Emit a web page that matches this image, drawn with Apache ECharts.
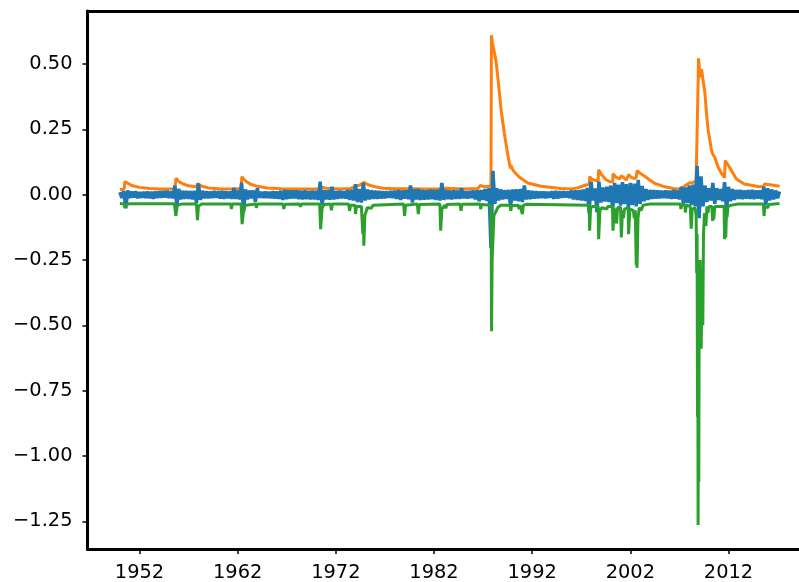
<!DOCTYPE html>
<html>
<head>
<meta charset="utf-8">
<script src="https://cdn.jsdelivr.net/npm/echarts@6/dist/echarts.min.js"></script>
<style>
  html, body { margin: 0; padding: 0; background: #fff; }
  #chart { width: 799px; height: 582px; }
</style>
</head>
<body>
<div id="chart"></div>
<script>
// tick labels
const xTicks = [1952, 1962, 1972, 1982, 1992, 2002, 2012]
const yTicks = [0.5, 0.25, 0, -0.25, -0.5, -0.75, -1.0, -1.25]

// blue: daily-ish returns, sampled every 0.2 year from 1950.0
const blueStart = 1950.0
const blueStep = 0.2
const blueValues = [
  0.010, -0.012, 0.014, -0.052, 0.016,   // 1950
  -0.013, 0.012, -0.011, 0.013, -0.014,  // 1951
  0.010, -0.012, 0.011, -0.013, 0.012,
  -0.014, 0.011, -0.016, 0.012, -0.013,
  0.013, -0.012, 0.014, -0.011, 0.015,
  -0.013, 0.012, -0.014, 0.035, -0.045,  // 1955
  0.022, -0.018, 0.015, -0.016, 0.014,
  -0.016, 0.014, -0.018, 0.015, -0.032,
  0.043, -0.020, 0.015, -0.014, 0.013,
  -0.014, 0.012, -0.013, 0.014, -0.012,
  0.013, -0.015, 0.014, -0.016, 0.013,   // 1960
  -0.014, 0.012, -0.016, 0.025, -0.016,
  0.016, -0.018, 0.046, -0.068, 0.020,
  -0.018, 0.016, -0.014, 0.016, -0.028,
  0.025, -0.012, 0.011, -0.013, 0.012,
  -0.013, 0.011, -0.014, 0.013, -0.015,  // 1965
  0.012, -0.016, 0.015, -0.020, 0.018,
  -0.017, 0.016, -0.015, 0.016, -0.014,
  0.016, -0.017, 0.015, -0.018, 0.016,
  -0.017, 0.014, -0.018, 0.016, -0.018,
  0.015, -0.020, 0.050, -0.040, 0.018,   // 1970
  -0.018, 0.017, -0.019, 0.030, -0.018,
  0.014, -0.016, 0.015, -0.014, 0.013,
  -0.015, 0.018, -0.020, 0.019, -0.022,
  0.040, -0.028, 0.022, -0.030, 0.045,
  -0.022, 0.020, -0.018, 0.017, -0.016,  // 1975
  0.015, -0.016, 0.014, -0.015, 0.013,
  -0.014, 0.013, -0.012, 0.014, -0.013,
  0.015, -0.016, 0.018, -0.020, 0.016,
  -0.015, 0.016, -0.017, 0.035, -0.030,
  0.020, -0.018, 0.022, -0.020, 0.018,   // 1980
  -0.019, 0.017, -0.018, 0.019, -0.017,
  0.018, -0.020, 0.019, -0.022, 0.045,
  -0.020, 0.018, -0.017, 0.016, -0.018,
  0.017, -0.016, 0.015, -0.016, 0.025,
  -0.014, 0.013, -0.015, 0.014, -0.013,  // 1985
  0.016, -0.018, 0.017, -0.025, 0.018,
  -0.020, 0.022, -0.024, 0.025, -0.205,
  0.091, -0.035, 0.025, -0.022, 0.020,
  -0.018, 0.017, -0.016, 0.018, -0.045,
  0.020, -0.022, 0.021, -0.025, 0.022,   // 1990
  -0.028, 0.035, -0.018, 0.016, -0.017,
  0.014, -0.015, 0.013, -0.014, 0.012,
  -0.013, 0.012, -0.014, 0.011, -0.012,
  0.013, -0.016, 0.014, -0.015, 0.013,
  -0.012, 0.013, -0.011, 0.012, -0.013,  // 1995
  0.016, -0.018, 0.017, -0.020, 0.018,
  -0.022, 0.020, -0.024, 0.026, -0.070,
  0.050, -0.022, 0.024, -0.068, 0.050,
  -0.030, 0.028, -0.026, 0.030, -0.028,
  0.035, -0.058, 0.045, -0.032, 0.038,   // 2000
  -0.042, 0.048, -0.036, 0.040, -0.050,
  0.045, -0.040, 0.042, -0.045, 0.057,
  -0.035, 0.033, -0.025, 0.022, -0.020,
  0.018, -0.016, 0.017, -0.015, 0.016,
  -0.014, 0.015, -0.013, 0.016, -0.014,  // 2005
  0.015, -0.016, 0.018, -0.015, 0.016,
  -0.018, 0.030, -0.035, 0.028, -0.032,
  0.035, -0.040, 0.038, -0.045, 0.110,
  -0.090, 0.070, -0.045, 0.035, -0.028,
  0.025, -0.022, 0.045, -0.035, 0.025,   // 2010
  -0.020, 0.022, -0.025, 0.048, -0.066,
  0.030, -0.025, 0.022, -0.020, 0.018,
  -0.016, 0.018, -0.017, 0.016, -0.015,
  0.017, -0.016, 0.018, -0.017, 0.016,
  -0.015, 0.016, -0.017, 0.030, -0.040,  // 2015
  0.025, -0.022, 0.020, -0.018, 0.016,
  -0.014, 0.012                          // 2017
]

// orange: [year, value]
const orangePts = [
  [1950.0, 0.020], [1950.45, 0.022], [1950.5, 0.050], [1950.7, 0.048], [1951.2, 0.035],
  [1952.0, 0.028], [1953.0, 0.024], [1954.0, 0.022], [1955.6, 0.022], [1955.72, 0.063],
  [1956.0, 0.050], [1956.5, 0.040], [1957.0, 0.034], [1957.8, 0.030], [1957.9, 0.042],
  [1958.3, 0.033], [1959.0, 0.026], [1960.4, 0.022], [1961.5, 0.023], [1962.35, 0.024],
  [1962.42, 0.069], [1962.8, 0.052], [1963.3, 0.040], [1964.0, 0.032], [1965.0, 0.026],
  [1966.5, 0.023], [1968.0, 0.022], [1970.3, 0.022], [1970.45, 0.030], [1971.0, 0.025],
  [1972.5, 0.022], [1973.5, 0.024], [1974.0, 0.032], [1974.5, 0.038], [1974.85, 0.047],
  [1975.3, 0.038], [1976.0, 0.030], [1976.8, 0.025], [1978.0, 0.023], [1979.8, 0.023],
  [1980.0, 0.026], [1981.0, 0.022], [1982.6, 0.023], [1982.7, 0.030], [1983.2, 0.025],
  [1985.0, 0.022], [1986.5, 0.024], [1986.7, 0.035], [1987.2, 0.030], [1987.8, 0.033],
  [1987.85, 0.610], [1987.95, 0.580], [1988.3, 0.515], [1988.5, 0.450], [1988.67, 0.387],
  [1988.84, 0.323], [1989.17, 0.233], [1989.5, 0.157], [1989.78, 0.100], [1989.83, 0.113],
  [1990.0, 0.097], [1990.2, 0.086], [1990.7, 0.067], [1991.55, 0.045], [1992.9, 0.032],
  [1994.9, 0.024], [1996.0, 0.022], [1996.6, 0.026], [1997.3, 0.035], [1997.82, 0.040],
  [1997.85, 0.069], [1998.1, 0.058], [1998.72, 0.052], [1998.77, 0.095], [1999.1, 0.075],
  [1999.5, 0.058], [1999.9, 0.050], [2000.2, 0.048], [2000.23, 0.080], [2000.5, 0.068],
  [2000.9, 0.060], [2001.05, 0.058], [2001.08, 0.073], [2001.6, 0.056], [2001.79, 0.055],
  [2001.82, 0.077], [2002.1, 0.066], [2002.5, 0.062], [2002.62, 0.070], [2002.68, 0.092],
  [2003.0, 0.082], [2003.5, 0.070], [2004.0, 0.055], [2004.5, 0.043], [2005.5, 0.030],
  [2006.4, 0.024], [2006.9, 0.022], [2007.2, 0.025], [2007.6, 0.035], [2008.0, 0.045],
  [2008.4, 0.047], [2008.7, 0.052], [2008.8, 0.058], [2008.86, 0.350], [2008.95, 0.522],
  [2009.1, 0.450], [2009.25, 0.480], [2009.6, 0.387], [2009.76, 0.310], [2009.93, 0.246],
  [2010.1, 0.208], [2010.27, 0.169], [2010.4, 0.155], [2010.45, 0.160], [2010.6, 0.143],
  [2010.95, 0.105], [2011.3, 0.080], [2011.6, 0.066], [2011.66, 0.131], [2012.1, 0.105],
  [2012.8, 0.060], [2013.6, 0.041], [2015.0, 0.031], [2015.6, 0.030], [2015.65, 0.041],
  [2016.4, 0.037], [2017.2, 0.032]
]

// green: [year, value]
const greenPts = [
  [1950.0, -0.034], [1950.45, -0.036], [1950.5, -0.050], [1950.6, -0.038], [1951.0, -0.035],
  [1955.55, -0.035], [1955.7, -0.081], [1955.85, -0.040], [1956.3, -0.036], [1957.8, -0.036],
  [1957.9, -0.097], [1958.0, -0.045], [1958.3, -0.036], [1961.3, -0.036], [1961.35, -0.055],
  [1961.45, -0.036], [1962.35, -0.036], [1962.45, -0.113], [1962.6, -0.060], [1962.8, -0.040],
  [1963.85, -0.036], [1963.9, -0.050], [1964.0, -0.036], [1966.6, -0.036], [1966.7, -0.055],
  [1966.8, -0.037], [1968.3, -0.036], [1968.4, -0.046], [1968.5, -0.036], [1970.35, -0.036],
  [1970.45, -0.132], [1970.6, -0.050], [1970.8, -0.038], [1971.45, -0.036], [1971.55, -0.060],
  [1971.65, -0.036], [1973.3, -0.036], [1973.4, -0.062], [1973.5, -0.040], [1973.95, -0.040],
  [1974.0, -0.074], [1974.1, -0.045], [1974.6, -0.045], [1974.75, -0.150], [1974.8, -0.090],
  [1974.85, -0.195], [1974.95, -0.080], [1975.2, -0.050], [1975.6, -0.052], [1975.8, -0.040],
  [1978.9, -0.036], [1979.0, -0.081], [1979.1, -0.040], [1980.3, -0.036], [1980.4, -0.074],
  [1980.5, -0.038], [1982.6, -0.036], [1982.68, -0.138], [1982.8, -0.055], [1983.1, -0.040],
  [1983.2, -0.052], [1983.3, -0.038], [1984.65, -0.036], [1984.75, -0.062], [1984.85, -0.037],
  [1986.7, -0.036], [1986.75, -0.055], [1986.85, -0.038], [1987.8, -0.040], [1987.83, -0.200],
  [1987.86, -0.523], [1987.92, -0.250], [1988.1, -0.080], [1988.5, -0.049], [1988.8, -0.040],
  [1989.75, -0.040], [1989.82, -0.062], [1989.9, -0.042], [1990.6, -0.040], [1990.65, -0.055],
  [1990.75, -0.040], [1991.0, -0.074], [1991.1, -0.040], [1991.3, -0.045], [1991.4, -0.037],
  [1997.8, -0.040], [1997.85, -0.138], [1997.95, -0.050], [1998.2, -0.045], [1998.72, -0.045],
  [1998.77, -0.170], [1998.9, -0.060], [1999.1, -0.050], [1999.6, -0.055], [1999.7, -0.045],
  [2000.18, -0.045], [2000.23, -0.138], [2000.35, -0.050], [2000.6, -0.110], [2000.7, -0.050],
  [2001.0, -0.048], [2001.08, -0.164], [2001.2, -0.060], [2001.3, -0.090], [2001.4, -0.055],
  [2001.78, -0.050], [2001.82, -0.151], [2001.95, -0.055], [2002.3, -0.060], [2002.4, -0.090],
  [2002.5, -0.060], [2002.6, -0.270], [2002.64, -0.150], [2002.68, -0.280], [2002.78, -0.090],
  [2002.9, -0.050], [2003.1, -0.060], [2003.3, -0.040], [2004.0, -0.036], [2007.1, -0.036],
  [2007.15, -0.055], [2007.25, -0.037], [2007.55, -0.040], [2007.6, -0.068], [2007.7, -0.040],
  [2008.1, -0.045], [2008.2, -0.130], [2008.3, -0.055], [2008.6, -0.050], [2008.7, -0.080],
  [2008.76, -0.300], [2008.8, -0.150], [2008.84, -0.850], [2008.87, -0.450], [2008.9, -1.264],
  [2008.94, -0.700], [2008.97, -1.100], [2009.02, -0.350], [2009.1, -0.250], [2009.22, -0.590],
  [2009.3, -0.300], [2009.38, -0.500], [2009.45, -0.150], [2009.55, -0.070], [2009.7, -0.120],
  [2009.8, -0.045], [2009.9, -0.070], [2010.0, -0.045], [2010.3, -0.045], [2010.38, -0.100],
  [2010.45, -0.060], [2010.5, -0.095], [2010.6, -0.045], [2011.55, -0.045], [2011.6, -0.170],
  [2011.66, -0.100], [2011.72, -0.164], [2011.8, -0.060], [2011.85, -0.087], [2011.95, -0.045],
  [2012.3, -0.040], [2013.0, -0.036], [2015.55, -0.036], [2015.62, -0.081], [2015.7, -0.045],
  [2016.0, -0.050], [2016.1, -0.038], [2017.2, -0.034]
]

const bluePts = blueValues.map((v, i) => [blueStart + i * blueStep, v])

const fmtMinus = (v) => v.toFixed(2).replace('-', '\u2212')
const labelFont = { color: '#000', fontSize: 19.4, fontFamily: 'DejaVu Sans' }
const spine = { show: true, onZero: false, lineStyle: { color: '#000', width: 3 } }
const tick = { show: true, length: 5, lineStyle: { color: '#000', width: 1.5 } }

let mychart = echarts.init(document.getElementById('chart'))
let option = {
  animation: false,
  grid: {
    left: 87.5,
    top: 11,
    right: 0,
    height: 538
  },
  xAxis: [
    {
      type: 'value',
      position: 'bottom',
      min: 1946.7,
      max: 2019.18, // plot runs on past the right edge of the page
      splitLine: { show: false },
      axisLine: spine,
      axisTick: { ...tick, customValues: xTicks },
      axisLabel: {
        ...labelFont,
        margin: 14,
        customValues: xTicks,
        formatter: (v) => String(v)
      }
    },
    {
      // top spine only
      type: 'value',
      position: 'top',
      min: 1946.7,
      max: 2019.18,
      splitLine: { show: false },
      axisLine: spine,
      axisTick: { show: false },
      axisLabel: { show: false }
    }
  ],
  yAxis: {
    type: 'value',
    min: -1.356,
    max: 0.703,
    splitLine: { show: false },
    axisLine: spine,
    axisTick: { ...tick, customValues: yTicks },
    axisLabel: {
      ...labelFont,
      margin: 15,
      customValues: yTicks,
      formatter: fmtMinus
    }
  },
  series: [
    {
      name: 'orange',
      type: 'line',
      data: orangePts,
      showSymbol: false,
      lineStyle: { color: '#ff7f0e', width: 3 }
    },
    {
      name: 'blue',
      type: 'line',
      data: bluePts,
      showSymbol: false,
      lineStyle: { color: '#1f77b4', width: 3.5 }
    },
    {
      name: 'green',
      type: 'line',
      data: greenPts,
      showSymbol: false,
      lineStyle: { color: '#2ca02c', width: 3 }
    }
  ]
}
mychart.setOption(option)
</script>
</body>
</html>
